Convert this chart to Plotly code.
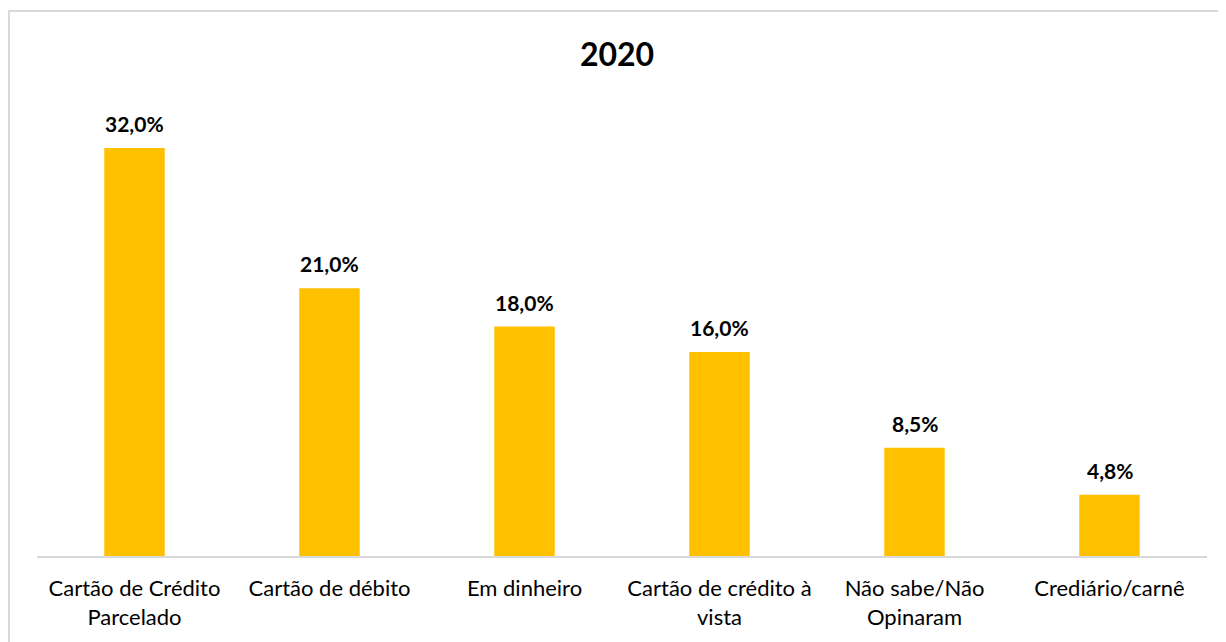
import plotly.graph_objects as go

categories = [
    "Cartão de Crédito<br>Parcelado",
    "Cartão de débito",
    "Em dinheiro",
    "Cartão de crédito à<br>vista",
    "Não sabe/Não<br>Opinaram",
    "Crediário/carnê",
]
values = [32.0, 21.0, 18.0, 16.0, 8.5, 4.8]
title_text = "2020"

FONT = "Lato, 'Open Sans', sans-serif"

# page body has an 8px margin; figure coordinates are offset by it
OFF = 8
W, H = 1226 - OFF, 642 - OFF
L, R = 37 - OFF, 18.5
T = 100 - OFF
BASE = 556 - OFF
B = H - BASE
pw = W - L - R
ph = BASE - T

fig = go.Figure(
    go.Bar(
        x=categories,
        y=values,
        marker=dict(color="#FFC000", line=dict(width=0)),
        hoverinfo="skip",
    )
)

for c, v in zip(categories, values):
    fig.add_annotation(
        x=c,
        y=v,
        xref="x",
        yref="y",
        text="<b>" + f"{v:.1f}".replace(".", ",") + "%</b>",
        showarrow=False,
        yanchor="bottom",
        yshift=10,
        font=dict(family=FONT, size=21, color="#000000"),
    )

fig.update_layout(
    width=W,
    height=H,
    margin=dict(l=L, r=R, t=T, b=B),
    paper_bgcolor="white",
    plot_bgcolor="white",
    bargap=0.69,
    showlegend=False,
    title=dict(
        text="<b>" + title_text + "</b>",
        x=0.5,
        xanchor="center",
        y=1 - 47 / H,
        yanchor="middle",
        font=dict(family=FONT, size=32, color="#000000"),
    ),
    font=dict(family=FONT, color="#000000"),
    shapes=[
        dict(
            type="rect",
            xref="paper",
            yref="paper",
            x0=(1 - L) / pw,
            x1=(W + 10 - L) / pw,
            y0=-(H + 10 - BASE) / ph,
            y1=(BASE - 3) / ph,
            line=dict(color="#D9D9D9", width=2),
            fillcolor="rgba(0,0,0,0)",
            layer="below",
        )
    ],
)

fig.update_xaxes(
    showline=True,
    linecolor="#D9D9D9",
    linewidth=1.5,
    ticks="outside",
    ticklen=12,
    tickcolor="rgba(0,0,0,0)",
    tickfont=dict(family=FONT, size=22, color="#000000"),
    showgrid=False,
    zeroline=False,
)
fig.update_yaxes(
    range=[0, ph / 12.75],
    visible=False,
    showgrid=False,
    zeroline=False,
)

fig.write_html("out.html")
